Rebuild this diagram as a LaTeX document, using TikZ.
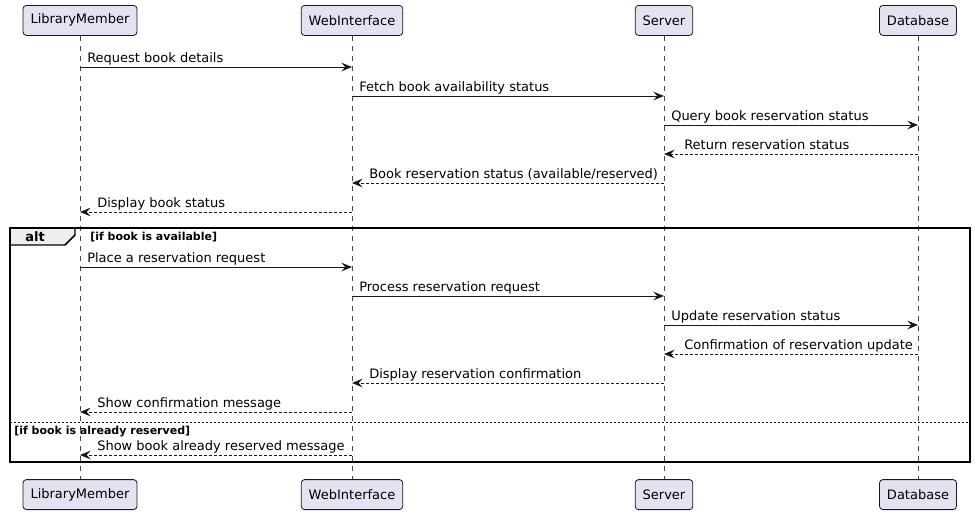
\documentclass[tikz,border=0pt]{standalone}
\usepackage{fontspec}
\setmainfont{DejaVu Sans}
\usetikzlibrary{arrows.meta}
\definecolor{partfill}{HTML}{E2E2F0}
\definecolor{partline}{HTML}{181818}
\definecolor{tabfill}{HTML}{EEEEEE}
\begin{document}
\begin{tikzpicture}[x=0.75pt,y=-0.75pt,
  part/.style={draw=partline,fill=partfill,rounded corners=2.5pt,line width=0.6pt,
    minimum height=22.5pt,inner xsep=5.6pt,font=\fontsize{9.75}{12}\selectfont},
  life/.style={draw=partline!80,line width=0.45pt,dash pattern=on 3.75pt off 3.75pt},
  msg/.style={draw=partline,line width=0.75pt,-{Stealth[length=8pt,width=6.5pt,inset=3pt]}},
  ret/.style={msg,dash pattern=on 2.25pt off 1.5pt},
  lbl/.style={anchor=base west,inner sep=0,font=\fontsize{9.75}{12}\selectfont},
  glbl/.style={anchor=base west,inner sep=0,font=\bfseries\fontsize{8.25}{10}\selectfont},
]
\useasboundingbox (0,0) rectangle (975,515);
% participants
\node[part,anchor=north] (lmT) at (80,5) {LibraryMember};
\node[part,anchor=north] (wiT) at (352,5) {WebInterface};
\node[part,anchor=north] (svT) at (664,5) {Server};
\node[part,anchor=north] (dbT) at (918,5) {Database};
\node[part,anchor=south] (lmB) at (80,510) {LibraryMember};
\node[part,anchor=south] (wiB) at (352,510) {WebInterface};
\node[part,anchor=south] (svB) at (664,510) {Server};
\node[part,anchor=south] (dbB) at (918,510) {Database};
\foreach \p in {lm,wi,sv,db}{\draw[life] (\p T.south) -- (\p B.north);}
% alt frame
\filldraw[fill=tabfill,draw=black,line width=1.1pt] (10,228) -- (75,228) -- (75,235) -- (65,245) -- (10,245) -- cycle;
\draw[line width=1.5pt,draw=black] (10,228) rectangle (970,462);
\node[anchor=base,inner sep=0,font=\bfseries\fontsize{9.75}{12}\selectfont] (alt) at (35,241) {alt};
\node[glbl] (g1) at (90,240) {[if book is available]};
\draw[line width=0.6pt,dash pattern=on 1.5pt off 1.5pt] (10,422) -- (970,422);
\node[glbl] (g2) at (14,434) {[if book is already reserved]};
% messages
\draw[msg] (lmT |- 0,67) -- (wiT |- 0,67);
\node[lbl] (m1) at (87,62) {Request book details};
\draw[msg] (wiT |- 0,96) -- (svT |- 0,96);
\node[lbl] (m2) at (359,91) {Fetch book availability status};
\draw[msg] (svT |- 0,125) -- (dbT |- 0,125);
\node[lbl] (m3) at (671,120) {Query book reservation status};
\draw[ret] (dbT |- 0,154) -- (svT |- 0,154);
\node[lbl] (m4) at (684,149) {Return reservation status};
\draw[ret] (svT |- 0,183) -- (wiT |- 0,183);
\node[lbl] (m5) at (369,178) {Book reservation status (available/reserved)};
\draw[ret] (wiT |- 0,212) -- (lmT |- 0,212);
\node[lbl] (m6) at (97,207) {Display book status};
\draw[msg] (lmT |- 0,267) -- (wiT |- 0,267);
\node[lbl] (m7) at (87,262) {Place a reservation request};
\draw[msg] (wiT |- 0,296) -- (svT |- 0,296);
\node[lbl] (m8) at (359,291) {Process reservation request};
\draw[msg] (svT |- 0,325) -- (dbT |- 0,325);
\node[lbl] (m9) at (671,320) {Update reservation status};
\draw[ret] (dbT |- 0,354) -- (svT |- 0,354);
\node[lbl] (m10) at (684,349) {Confirmation of reservation update};
\draw[ret] (svT |- 0,383) -- (wiT |- 0,383);
\node[lbl] (m11) at (369,378) {Display reservation confirmation};
\draw[ret] (wiT |- 0,412) -- (lmT |- 0,412);
\node[lbl] (m12) at (97,407) {Show confirmation message};
\draw[ret] (wiT |- 0,455) -- (lmT |- 0,455);
\node[lbl] (m13) at (97,450) {Show book already reserved message};
\end{tikzpicture}
\end{document}
